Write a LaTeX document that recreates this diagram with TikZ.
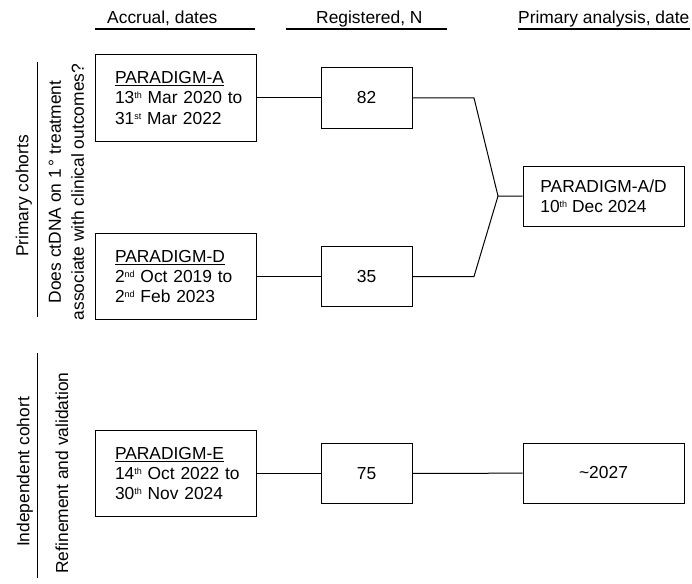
\documentclass[tikz,border=0pt]{standalone}
\usepackage{fontspec}
\setmainfont{Liberation Sans}
\newcommand{\ordsup}[1]{\raisebox{5pt}{\fontsize{9}{9}\selectfont #1}}

\begin{document}
\begin{tikzpicture}
[x=1pt,y=-1pt,
  font=\fontsize{17.4}{20.3}\selectfont,
  cohortbox/.style={shape=rectangle,draw,line width=1pt,minimum width=161pt,minimum height=86pt,text width=121pt,align=left,inner sep=0pt},%
  countbox/.style={shape=rectangle,draw,line width=1pt,minimum width=91pt,minimum height=60pt,inner sep=0pt},
  analysisbox/.style={shape=rectangle,draw,line width=1pt,minimum width=161pt,minimum height=60pt,align=left,inner sep=0pt},
  linedecorate/.style={-,line width=1pt},
  headrule/.style={-,line width=1.4pt},
  sidelabel/.style={rotate=90,inner sep=0pt}]
\useasboundingbox (0,0) rectangle (692,583);
%% column headings
\foreach \headname/\x/\xa/\xb/\headtext in {
  accrual/107/95/255/{Accrual, dates},
  registered/316/286/447/{Registered, N},
  analysis/518/518/690/{Primary analysis, date}}
{
  \node (\headname) at (\x,24) [anchor=base west,inner sep=0pt] {\headtext};
  \draw[headrule] (\xa,29) -- (\xb,29);
}
%% cohorts and numbers registered
\foreach \nodename/\y/\cohort/\dates/\count in {
  A/98/{PARADIGM-A}/{13\ordsup{th}~Mar~2020~to\\31\ordsup{st}~Mar~2022}/82,
  D/276.5/{PARADIGM-D}/{2\ordsup{nd}~Oct~2019~to\\2\ordsup{nd}~Feb~2023}/35,
  E/473.5/{PARADIGM-E}/{14\ordsup{th}~Oct~2022~to\\30\ordsup{th}~Nov~2024}/75}
{
  \node (\nodename) at (175.5,\y) [cohortbox] {\underline{\cohort}\\\dates};
  \node (n\nodename) at (366.5,\y) [countbox] {\count};
}
%% primary analyses
\node (AD) at (603.5,196) [analysisbox] {PARADIGM-A/D\\10\ordsup{th} Dec 2024};
\node (E2027) at (603.5,473) [analysisbox] {\textasciitilde2027};
\coordinate (bendA) at (474,98);
\coordinate (bendD) at (474,276.5);
\coordinate (joinAD) at (498,196);
%% edges or lines
\path
\foreach \startnode/\endnode in {A/nA, D/nD, E/nE, nE/E2027}
{
  (\startnode) edge[linedecorate] (\endnode)
};
\draw[linedecorate] (nA.east) -- (bendA) -- (joinAD) -- (AD.west);
\draw[linedecorate] (nD.east) -- (bendD) -- (joinAD);
%% side labels
\node (primary) at (24,196) [sidelabel] {Primary cohorts};
\node (question) at (66.5,192) [sidelabel,align=center,font=\fontsize{17.4}{23}\selectfont]
  {Does ctDNA on 1\,\textdegree{} treatment\\associate with clinical outcomes?};
\draw[linedecorate] (37,62) -- (37,317);
\node (independent) at (25,472) [sidelabel] {Independent cohort};
\node (refine) at (62,473) [sidelabel] {Refinement and validation};
\draw[linedecorate] (37,353) -- (37,578);
\end{tikzpicture}
\end{document}
